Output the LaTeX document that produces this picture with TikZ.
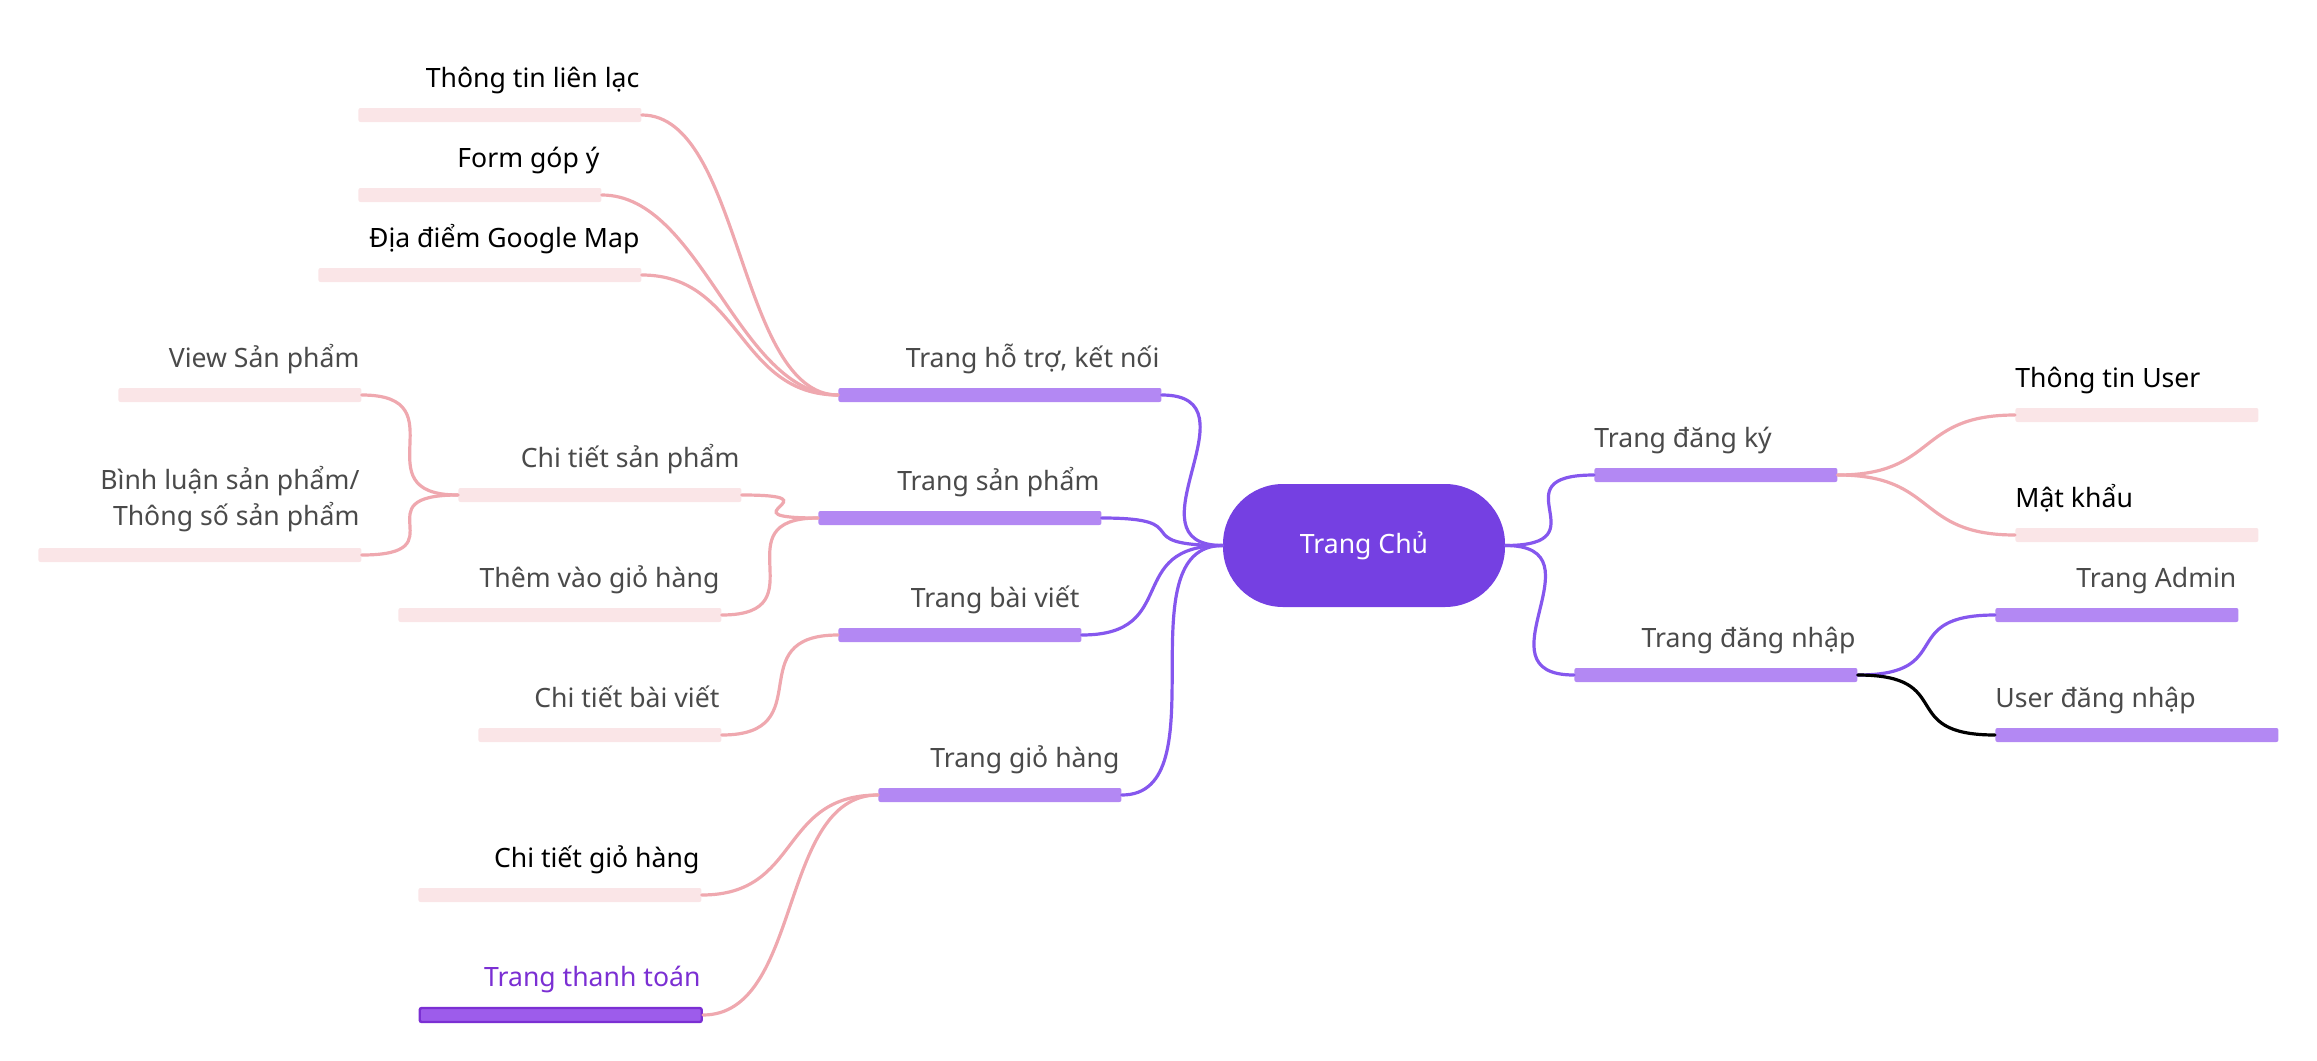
\documentclass[tikz,border=0pt]{standalone}
\usepackage{fontspec}
\setmainfont{Noto Sans}
\usetikzlibrary{positioning}

\definecolor{mainpurple}{HTML}{7540E2}
\definecolor{barpurple}{HTML}{B388F3}
\definecolor{linepurple}{HTML}{8557EE}
\definecolor{barpink}{HTML}{FAE5E7}
\definecolor{linepink}{HTML}{EFA8AF}
\definecolor{txtgray}{HTML}{4A4A4A}
\definecolor{paypurple}{HTML}{7B2FD3}
\definecolor{payfill}{HTML}{9D5CEB}

\tikzset{
  pinkbar/.style={rectangle, fill=barpink, rounded corners=1pt, inner sep=0, minimum height=7pt, anchor=west},
  purplebar/.style={pinkbar, fill=barpurple},
  tl/.style={inner sep=0, anchor=base east, xshift=-1pt, text=txtgray, font=\fontsize{13.3}{18.3}\selectfont},
  tr/.style={tl, anchor=base west, xshift=1pt},
  hub/.style={rectangle, rounded corners=30pt, fill=mainpurple, text=white, inner sep=0,
    minimum width=141pt, minimum height=61.5pt, font=\fontsize{13.3}{16}\selectfont},
  conn/.style={line width=1.6pt, line cap=round, to path={.. controls +(100,0) and +(-100,0) .. (\tikztotarget)}}
}

\begin{document}
\begin{tikzpicture}[x=0.5pt, y=-0.5pt]
\useasboundingbox (0,0) rectangle (2317,1060);

% center
\node[hub] (trangchu) at (1364,545.5) {Trang Chủ};

% bars
\foreach \nm/\x/\y/\w in {lienlac/358/115/283, gopy/358/195/243, diadiem/318/275/323,
    viewsp/118/395/243, chitietsp/458/495/283, binhluan/38/555/323, themgio/398/615/323,
    chitietbv/478/735/243, chitietgh/418/895/283, ttuser/2015/415/243, matkhau/2015/535/243}
  \node[pinkbar, minimum width=\w*0.5pt] (\nm) at (\x,\y) {};
\foreach \nm/\x/\y/\w in {hotro/838/395/323, trangsp/818/518/283, baiviet/838/635/243,
    giohang/878/795/243, dangky/1594/475/243, dangnhap/1574/675/283, admin/1995/615/243,
    userdn/1995/735/283}
  \node[purplebar, minimum width=\w*0.5pt] (\nm) at (\x,\y) {};
\node[purplebar, fill=payfill, draw=paypurple, line width=1.2pt, minimum width=141pt] (thanhtoan) at (418.5,1015) {};

% labels, left
\node[above=10pt of lienlac.north east, tl, text=black] (lienlac-t) {Thông tin liên lạc};
\node[above=10pt of gopy.north east, tl, text=black] (gopy-t) {Form góp ý};
\node[above=10pt of diadiem.north east, tl, text=black] (diadiem-t) {Địa điểm Google Map};
\node[above=10pt of hotro.north east, tl] (hotro-t) {Trang hỗ trợ, kết nối};
\node[above=10pt of viewsp.north east, tl] (viewsp-t) {View Sản phẩm};
\node[above=10pt of chitietsp.north east, tl] (chitietsp-t) {Chi tiết sản phẩm};
\node[above=10pt of trangsp.north east, tl] (trangsp-t) {Trang sản phẩm};
\node[above=7.5pt of binhluan.north east, tl, anchor=south east, align=right] (binhluan-t) {Bình luận sản phẩm/\\Thông số sản phẩm};
\node[above=10pt of themgio.north east, tl] (themgio-t) {Thêm vào giỏ hàng};
\node[above=10pt of baiviet.north east, tl] (baiviet-t) {Trang bài viết};
\node[above=10pt of chitietbv.north east, tl] (chitietbv-t) {Chi tiết bài viết};
\node[above=10pt of giohang.north east, tl] (giohang-t) {Trang giỏ hàng};
\node[above=10pt of chitietgh.north east, tl, text=black] (chitietgh-t) {Chi tiết giỏ hàng};
\node[above=10pt of thanhtoan.north east, tl, text=paypurple] (thanhtoan-t) {Trang thanh toán};

% labels, right
\node[above=10pt of dangky.north west, tr] (dangky-t) {Trang đăng ký};
\node[above=10pt of ttuser.north west, tr, text=black] (ttuser-t) {Thông tin User};
\node[above=10pt of matkhau.north west, tr, text=black] (matkhau-t) {Mật khẩu};
\node[above=10pt of dangnhap.north east, tl] (dangnhap-t) {Trang đăng nhập};
\node[above=10pt of admin.north east, tl] (admin-t) {Trang Admin};
\node[above=10pt of userdn.north west, tr] (userdn-t) {User đăng nhập};

% connectors
\foreach \a/\b in {hotro/trangchu, trangsp/trangchu, baiviet/trangchu, giohang/trangchu,
    trangchu/dangky, trangchu/dangnhap, dangnhap/admin}
  \draw[conn, linepurple] (\a.east) to (\b.west);
\foreach \a/\b in {lienlac/hotro, gopy/hotro, diadiem/hotro, viewsp/chitietsp, binhluan/chitietsp,
    chitietsp/trangsp, themgio/trangsp, chitietbv/baiviet, chitietgh/giohang, thanhtoan/giohang,
    dangky/ttuser, dangky/matkhau}
  \draw[conn, linepink] (\a.east) to (\b.west);
\draw[conn, black] (dangnhap.east) to (userdn.west);
\end{tikzpicture}
\end{document}
